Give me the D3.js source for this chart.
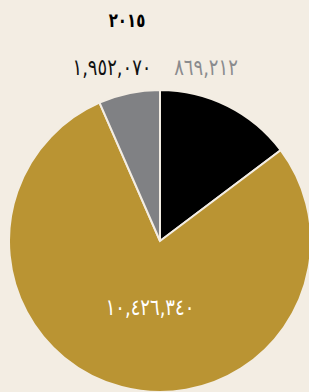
<!DOCTYPE html>
<html>
<head>
<meta charset="utf-8">
<script src="https://cdn.jsdelivr.net/npm/d3@7"></script>
<style>
  html, body { margin: 0; padding: 0; background: #f3ede3; }
  svg { display: block; }
  text { font-family: "DejaVu Sans", sans-serif; }
</style>
</head>
<body>
<svg id="chart"></svg>
<script>
// data
const year = '٢٠١٥';
const categories = ['a', 'b', 'c'];
const values = [1952070, 10426340, 869212];
const labels = ['١,٩٥٢,٠٧٠', '١٠,٤٢٦,٣٤٠', '٨٦٩,٢١٢'];
const colors = ['#000000', '#ba9433', '#808184'];
const labelColors = ['#111111', '#ffffff', '#8a8b8e'];

const w = 309, h = 392;
const cx = 160, cy = 241, r = 151;

const svg = d3.select('#chart')
  .attr('width', w)
  .attr('height', h);

// title (digits stretched a bit to look like the original tall face)
svg.append('text')
  .attr('transform', 'translate(127,27) scale(1,1.3)')
  .attr('text-anchor', 'middle')
  .attr('font-size', '15px')
  .attr('font-weight', 'bold')
  .attr('fill', '#000')
  .text(year);

const pie = d3.pie().sort(null).value(d => d);
const arcs = pie(values);
const arc = d3.arc().innerRadius(0).outerRadius(r);

const g = svg.append('g')
  .attr('transform', `translate(${cx},${cy})`);

g.selectAll('path')
  .data(arcs)
  .enter()
  .append('path')
  .attr('d', arc)
  .attr('fill', (d, i) => colors[i])
  .attr('stroke', '#f3ede3')
  .attr('stroke-width', 2);

// label spots (black and grey labels sit above the pie, gold one inside)
const labelPos = [[112, 75], [150, 315], [206, 75]];

svg.selectAll('text.lbl')
  .data(labels)
  .enter()
  .append('text')
  .attr('class', 'lbl')
  .attr('transform', (d, i) => `translate(${labelPos[i][0]},${labelPos[i][1]}) scale(1,1.25)`)
  .attr('text-anchor', 'middle')
  .attr('direction', 'ltr')
  .attr('font-size', '18px')
  .attr('fill', (d, i) => labelColors[i])
  .text(d => d);
</script>
</body>
</html>
